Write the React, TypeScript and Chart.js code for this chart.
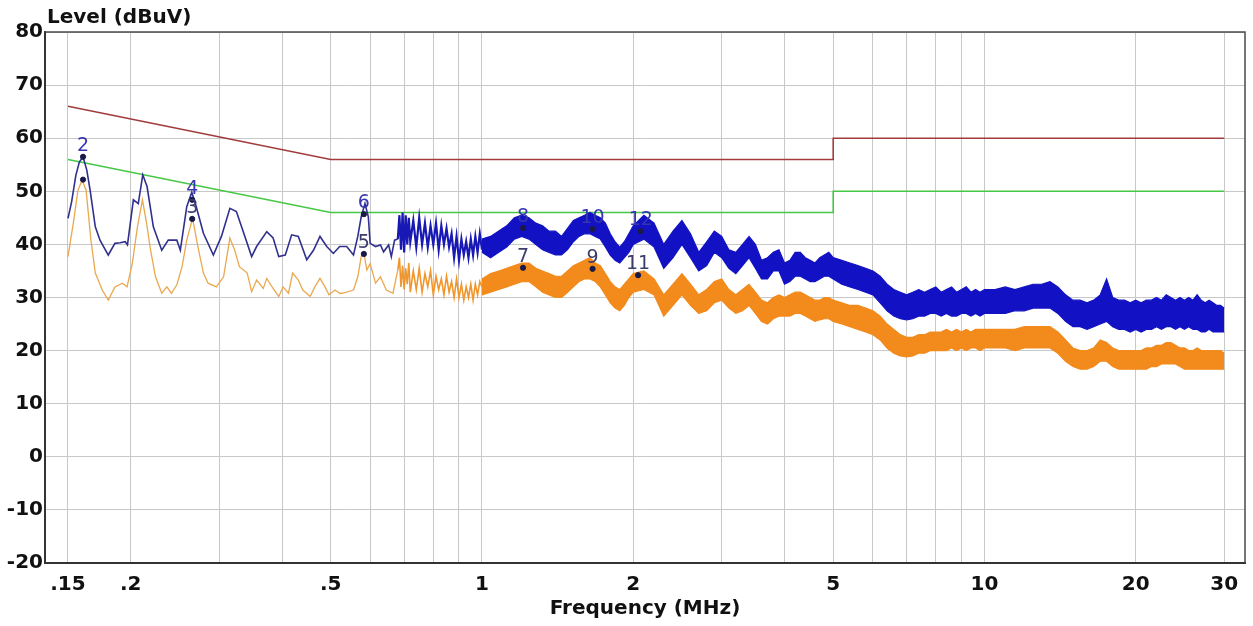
import React, { useEffect, useRef } from 'react';
import { Chart, registerables } from 'chart.js';

Chart.register(...registerables);

// ---------- axes ----------
const X_MIN = 0.135;
const X_MAX = 33;
const Y_MIN = -20;
const Y_MAX = 80;
const GRID_FREQS = [0.15, 0.2, 0.3, 0.4, 0.5, 0.6, 0.7, 0.8, 0.9, 1, 2, 3, 4, 5, 6, 7, 8, 9, 10, 20, 30];
const LABELED_FREQS = [0.15, 0.2, 0.5, 1, 2, 5, 10, 20, 30];
const LABEL_TEXT = ['.15', '.2', '.5', '1', '2', '5', '10', '20', '30'];
const Y_TITLE = 'Level (dBuV)';
const X_TITLE = 'Frequency (MHz)';

// ---------- limit lines ----------
const QP_FREQ = [0.15, 0.5, 5, 5, 30];
const QP_LEVEL = [66, 56, 56, 60, 60];
const AV_FREQ = [0.15, 0.5, 5, 5, 30];
const AV_LEVEL = [56, 46, 46, 50, 50];

// ---------- low-frequency traces (thin lines) ----------
const BLUE_LOW_FREQ = [0.150, 0.1525, 0.1555, 0.158, 0.1607, 0.1635, 0.166, 0.170, 0.1737, 0.1804, 0.186, 0.1905, 0.195, 0.197, 0.2024, 0.207, 0.2113, 0.2155, 0.2218, 0.2305, 0.2375, 0.247, 0.251, 0.2585, 0.2645, 0.270, 0.279, 0.292, 0.303, 0.315, 0.3245, 0.334, 0.348, 0.356, 0.373, 0.384, 0.394, 0.406, 0.418, 0.431, 0.448, 0.462, 0.476, 0.491, 0.506, 0.521, 0.538, 0.555, 0.566, 0.575, 0.585, 0.594, 0.599, 0.614, 0.628, 0.637, 0.652, 0.660, 0.670, 0.680];
const BLUE_LOW_LEVEL = [44.9, 48.0, 53.0, 55.5, 56.5, 54.0, 50.2, 43.3, 40.8, 38.0, 40.2, 40.3, 40.5, 39.9, 48.4, 47.7, 53.1, 50.9, 43.3, 38.9, 40.8, 40.8, 38.9, 47.1, 49.8, 47.1, 42.1, 38.0, 41.5, 46.8, 46.2, 42.7, 37.7, 39.6, 42.4, 41.2, 37.7, 38.0, 41.8, 41.5, 37.1, 38.9, 41.5, 39.6, 38.3, 39.6, 39.6, 38.0, 41.5, 45.2, 47.7, 45.2, 40.2, 39.6, 39.9, 38.6, 39.9, 37.7, 40.8, 41.0];

const ORANGE_LOW_FREQ = [0.150, 0.1537, 0.157, 0.160, 0.163, 0.1666, 0.170, 0.1755, 0.1804, 0.186, 0.1925, 0.1966, 0.2014, 0.2062, 0.211, 0.215, 0.219, 0.224, 0.2305, 0.236, 0.241, 0.247, 0.253, 0.2585, 0.2655, 0.272, 0.279, 0.285, 0.296, 0.306, 0.315, 0.322, 0.329, 0.341, 0.348, 0.356, 0.367, 0.373, 0.384, 0.394, 0.402, 0.412, 0.420, 0.431, 0.440, 0.455, 0.465, 0.476, 0.487, 0.496, 0.510, 0.521, 0.527, 0.555, 0.566, 0.575, 0.582, 0.590, 0.599, 0.614, 0.628, 0.645, 0.665, 0.680];
const ORANGE_LOW_LEVEL = [37.7, 44.0, 50.2, 52.1, 50.2, 40.8, 34.6, 31.4, 29.5, 32.0, 32.7, 32.0, 36.4, 43.3, 48.4, 44.0, 38.9, 33.9, 30.8, 32.0, 30.8, 32.4, 35.8, 40.8, 44.9, 39.6, 34.6, 32.7, 32.0, 33.9, 41.2, 38.9, 35.8, 34.6, 31.1, 33.3, 31.7, 33.6, 31.7, 30.2, 32.0, 30.8, 34.6, 33.3, 31.4, 30.2, 32.0, 33.6, 32.0, 30.5, 31.4, 30.8, 30.8, 31.4, 33.9, 37.7, 38.4, 35.2, 36.4, 32.7, 33.9, 31.4, 30.8, 35.2];

// ---------- spiky transition region 0.68 - 1.0 MHz ----------
const SPIKE_FREQ = [0.680, 0.685, 0.690, 0.695, 0.700, 0.705, 0.710, 0.715, 0.720, 0.730, 0.740, 0.750, 0.760, 0.770, 0.780, 0.790, 0.800, 0.810, 0.820, 0.830, 0.840, 0.850, 0.860, 0.870, 0.880, 0.890, 0.900, 0.910, 0.920, 0.930, 0.940, 0.950, 0.960, 0.970, 0.980, 0.990, 1.000];
const BLUE_SPIKE = [41.0, 45.5, 39.0, 46.0, 38.5, 45.5, 40.0, 45.0, 40.5, 44.5, 39.5, 45.0, 40.0, 44.0, 39.5, 43.5, 40.0, 44.0, 39.0, 43.5, 40.0, 43.0, 39.5, 42.0, 37.5, 41.5, 37.0, 41.0, 38.0, 40.5, 37.5, 41.0, 38.0, 41.5, 38.5, 42.0, 39.0];
const ORANGE_SPIKE = [35.2, 37.5, 32.0, 36.0, 31.5, 35.5, 32.5, 36.5, 31.0, 35.0, 31.5, 35.5, 31.0, 34.5, 32.0, 35.0, 30.5, 34.0, 31.5, 33.5, 30.5, 34.0, 31.0, 33.0, 30.0, 33.5, 30.0, 32.5, 29.5, 32.0, 30.0, 32.5, 29.5, 32.5, 30.5, 33.0, 32.0];

// ---------- noisy band region (upper / lower envelopes) ----------
const BAND_FREQ = [
  1.00, 1.04, 1.08, 1.12, 1.16, 1.20, 1.24, 1.28, 1.32, 1.36, 1.40, 1.44, 1.48, 1.52, 1.56, 1.60, 1.64, 1.68, 1.72, 1.76, 1.80, 1.84, 1.88, 1.92, 1.96, 2.00,
  2.1, 2.2, 2.3, 2.4, 2.5, 2.6, 2.7, 2.8, 2.9, 3.0, 3.1, 3.2, 3.3, 3.4, 3.5, 3.6, 3.7, 3.8, 3.9, 4.0, 4.1, 4.2, 4.3, 4.4, 4.5, 4.6, 4.7, 4.8, 4.9, 5.0,
  5.2, 5.4, 5.6, 5.8, 6.0, 6.2, 6.4, 6.6, 6.8, 7.0, 7.2, 7.4, 7.6, 7.8, 8.0, 8.2, 8.4, 8.6, 8.8, 9.0, 9.2, 9.4, 9.6, 9.8, 10.0,
  10.5, 11, 11.5, 12, 12.5, 13, 13.5, 14, 14.5, 15, 15.5, 16, 16.5, 17, 17.5, 18, 18.5, 19, 19.5, 20, 20.5, 21, 21.5, 22, 22.5, 23, 23.5, 24, 24.5, 25, 25.5, 26, 26.5, 27, 27.5, 28, 28.5, 29, 29.5, 30,
];
const BLUE_UPPER = [
  41.0, 41.5, 42.5, 43.5, 45.0, 45.5, 45.0, 44.0, 43.5, 42.5, 42.5, 41.5, 43.0, 44.5, 45.0, 45.5, 46.0, 45.5, 45.0, 44.0, 42.0, 40.5, 39.5, 40.5, 42.0, 43.5,
  45.5, 44.0, 40.0, 42.5, 44.5, 42.0, 38.5, 40.5, 42.5, 41.5, 39.0, 38.5, 40.0, 41.5, 40.0, 37.0, 37.5, 38.5, 39.0, 36.5, 37.0, 38.5, 38.5, 37.5, 37.0, 36.5, 37.5, 38.0, 38.5, 37.5,
  37.0, 36.5, 36.0, 35.5, 35.0, 34.0, 32.5, 31.5, 31.0, 30.5, 31.0, 31.5, 31.0, 31.5, 32.0, 31.0, 31.5, 32.0, 31.0, 31.5, 32.0, 31.0, 31.5, 31.0, 31.5,
  31.5, 32.0, 31.5, 32.0, 32.5, 32.5, 33.0, 32.0, 30.5, 29.5, 29.5, 29.0, 29.5, 30.5, 33.5, 30.0, 29.5, 29.5, 29.0, 29.5, 29.0, 29.5, 29.5, 30.0, 29.5, 30.5, 30.0, 29.5, 30.0, 29.5, 30.0, 29.5, 30.5, 29.5, 29.0, 29.5, 29.0, 28.5, 28.5, 28.0,
];
const BLUE_LOWER = [
  38.5, 37.5, 38.5, 39.5, 41.0, 41.5, 41.0, 40.0, 39.0, 38.5, 38.0, 38.0, 39.0, 40.5, 41.5, 42.0, 42.0, 41.5, 41.0, 39.5, 38.0, 37.0, 36.5, 37.5, 38.5, 40.0,
  41.0, 39.5, 35.5, 37.5, 40.0, 37.5, 35.0, 36.0, 38.5, 37.5, 35.5, 34.5, 36.0, 37.5, 35.5, 33.5, 33.5, 35.0, 35.0, 32.5, 33.0, 34.0, 34.0, 33.5, 33.0, 33.0, 33.5, 34.0, 34.0, 33.5,
  32.5, 32.0, 31.5, 31.0, 30.5, 29.0, 27.5, 26.5, 26.0, 25.8, 26.0, 26.5, 26.5, 27.0, 27.0, 26.5, 27.0, 26.5, 26.5, 27.0, 27.0, 26.5, 27.0, 26.5, 27.0,
  27.0, 27.0, 27.5, 27.5, 28.0, 28.0, 28.0, 27.0, 25.5, 24.5, 24.5, 24.0, 24.5, 25.0, 25.5, 24.5, 24.0, 24.0, 23.5, 24.0, 23.5, 24.0, 24.0, 24.5, 24.0, 24.5, 24.5, 24.0, 24.5, 24.0, 24.5, 24.0, 24.0, 23.5, 23.5, 24.0, 23.5, 23.5, 23.5, 23.5,
];
const ORANGE_UPPER = [
  33.5, 34.5, 35.0, 35.5, 36.0, 36.5, 36.5, 35.5, 35.0, 34.5, 34.0, 34.0, 35.0, 36.0, 36.5, 37.0, 37.5, 36.5, 36.0, 34.5, 33.0, 32.0, 31.5, 32.5, 33.5, 34.5,
  35.0, 33.5, 30.5, 32.5, 34.5, 32.5, 30.5, 31.5, 33.0, 33.5, 31.5, 30.5, 31.5, 32.5, 31.0, 29.5, 29.0, 30.0, 30.5, 30.0, 30.5, 31.0, 31.0, 30.5, 30.0, 29.5, 29.5, 30.0, 30.0, 29.5,
  29.0, 28.5, 28.5, 28.0, 27.5, 26.5, 25.0, 24.0, 23.0, 22.5, 22.5, 23.0, 23.0, 23.5, 23.5, 23.5, 24.0, 23.5, 24.0, 23.5, 24.0, 23.5, 24.0, 24.0, 24.0,
  24.0, 24.0, 24.0, 24.5, 24.5, 24.5, 24.5, 23.5, 22.0, 20.5, 20.0, 20.0, 20.5, 22.0, 21.5, 20.5, 20.0, 20.0, 20.0, 20.0, 20.0, 20.5, 20.5, 21.0, 21.0, 21.5, 21.5, 21.0, 20.5, 20.5, 20.0, 20.0, 20.5, 20.0, 20.0, 20.0, 20.0, 20.0, 20.0, 19.5,
];
const ORANGE_LOWER = [
  30.5, 31.0, 31.5, 32.0, 32.5, 33.0, 33.0, 32.0, 31.0, 30.5, 30.0, 30.0, 31.0, 32.0, 33.0, 33.5, 33.5, 33.0, 32.0, 30.5, 29.0, 28.0, 27.5, 28.5, 30.0, 31.0,
  31.5, 30.5, 26.5, 28.5, 30.5, 28.5, 27.0, 27.5, 29.0, 29.5, 28.0, 27.0, 27.5, 28.5, 27.0, 25.5, 25.0, 26.0, 26.5, 26.5, 26.5, 27.0, 27.0, 26.5, 26.0, 25.5, 25.8, 26.0, 26.0, 25.5,
  25.0, 24.5, 24.0, 23.5, 23.0, 22.0, 20.5, 19.5, 19.0, 18.8, 19.0, 19.5, 19.5, 20.0, 20.0, 20.0, 20.0, 20.5, 20.0, 20.5, 20.0, 20.5, 20.5, 20.0, 20.5,
  20.5, 20.5, 20.0, 20.5, 20.5, 20.5, 20.5, 19.5, 18.0, 17.0, 16.5, 16.5, 17.0, 18.0, 18.0, 17.0, 16.5, 16.5, 16.5, 16.5, 16.5, 16.5, 17.0, 17.0, 17.5, 17.5, 17.5, 17.5, 17.0, 16.5, 16.5, 16.5, 16.5, 16.5, 16.5, 16.5, 16.5, 16.5, 16.5, 16.5,
];

// ---------- markers ----------
const MARKER_IDS = ['1', '2', '3', '4', '5', '6', '7', '8', '9', '10', '11', '12'];
const MARKER_FREQ = [0.1607, 0.1607, 0.265, 0.265, 0.582, 0.582, 1.207, 1.207, 1.66, 1.66, 2.045, 2.07];
const MARKER_LEVEL = [52.2, 56.5, 44.8, 48.4, 38.2, 45.7, 35.6, 43.1, 35.4, 42.9, 34.2, 42.5];
const HIDDEN_LABELS = ['1'];

const pts = (xs: number[], ys: number[]) => xs.map((x, i) => ({ x, y: ys[i] }));

const BLUE = '#1212c4';
const ORANGE = '#f28a1c';
const FONT = '"DejaVu Sans", "Liberation Sans", Arial, sans-serif';

const overlayPlugin = {
  id: 'overlay',
  beforeDraw(chart: any) {
    const { ctx, width, height } = chart;
    ctx.save();
    ctx.fillStyle = '#ffffff';
    ctx.fillRect(0, 0, width, height);
    ctx.restore();
  },
  afterDatasetsDraw(chart: any) {
    const { ctx, scales } = chart;
    ctx.save();
    ctx.font = `19px ${FONT}`;
    ctx.textAlign = 'center';
    ctx.textBaseline = 'alphabetic';
    MARKER_IDS.forEach((id, i) => {
      if (HIDDEN_LABELS.includes(id)) return;
      const px = scales.x.getPixelForValue(MARKER_FREQ[i]);
      const py = scales.y.getPixelForValue(MARKER_LEVEL[i]);
      ctx.fillStyle = i % 2 === 1 ? '#3636b0' : '#3c3c6c';
      ctx.fillText(id, px, py - 6);
    });
    ctx.restore();
  },
  afterDraw(chart: any) {
    const { ctx, chartArea } = chart;
    ctx.save();
    ctx.strokeStyle = '#4a4a4a';
    ctx.lineWidth = 1.5;
    ctx.beginPath();
    ctx.moveTo(chartArea.left, chartArea.top);
    ctx.lineTo(chartArea.right, chartArea.top);
    ctx.lineTo(chartArea.right, chartArea.bottom);
    ctx.stroke();
    ctx.strokeStyle = '#333333';
    ctx.lineWidth = 2;
    ctx.beginPath();
    ctx.moveTo(chartArea.left, chartArea.top);
    ctx.lineTo(chartArea.left, chartArea.bottom);
    ctx.lineTo(chartArea.right, chartArea.bottom);
    ctx.stroke();

    ctx.fillStyle = '#111111';
    ctx.font = `bold 20px ${FONT}`;
    ctx.textBaseline = 'middle';
    ctx.textAlign = 'left';
    ctx.fillText(Y_TITLE, 47, 18);
    ctx.textAlign = 'center';
    ctx.fillText(X_TITLE, (chartArea.left + chartArea.right) / 2, 609);
    ctx.restore();
  },
};

export default function App() {
  const canvasRef = useRef<HTMLCanvasElement | null>(null);

  useEffect(() => {
    if (!canvasRef.current) return;
    const lineBase = { pointRadius: 0, tension: 0, fill: false } as any;
    const chart = new Chart(canvasRef.current, {
      type: 'line',
      data: {
        datasets: [
          {
            ...lineBase,
            label: 'markers',
            data: pts(MARKER_FREQ, MARKER_LEVEL),
            showLine: false,
            pointRadius: 2.6,
            pointBackgroundColor: '#1a1a48',
            pointBorderColor: '#1a1a48',
            order: 0,
          },
          {
            ...lineBase,
            label: 'blue upper',
            data: pts(BAND_FREQ, BLUE_UPPER),
            borderColor: BLUE,
            borderWidth: 1.2,
            order: 1,
          },
          {
            ...lineBase,
            label: 'blue lower',
            data: pts(BAND_FREQ, BLUE_LOWER),
            borderColor: BLUE,
            borderWidth: 1.2,
            backgroundColor: BLUE,
            fill: 1,
            order: 1,
          },
          {
            ...lineBase,
            label: 'blue low',
            data: pts(BLUE_LOW_FREQ, BLUE_LOW_LEVEL),
            borderColor: '#30308e',
            borderWidth: 1.6,
            order: 1,
          },
          {
            ...lineBase,
            label: 'orange upper',
            data: pts(BAND_FREQ, ORANGE_UPPER),
            borderColor: ORANGE,
            borderWidth: 1.2,
            order: 2,
          },
          {
            ...lineBase,
            label: 'orange lower',
            data: pts(BAND_FREQ, ORANGE_LOWER),
            borderColor: ORANGE,
            borderWidth: 1.2,
            backgroundColor: ORANGE,
            fill: 4,
            order: 2,
          },
          {
            ...lineBase,
            label: 'orange low',
            data: pts(ORANGE_LOW_FREQ, ORANGE_LOW_LEVEL),
            borderColor: '#eaa850',
            borderWidth: 1.3,
            order: 2,
          },
          {
            ...lineBase,
            label: 'QP limit',
            data: pts(QP_FREQ, QP_LEVEL),
            borderColor: '#a23c3c',
            borderWidth: 1.6,
            order: 3,
          },
          {
            ...lineBase,
            label: 'AV limit',
            data: pts(AV_FREQ, AV_LEVEL),
            borderColor: '#46c846',
            borderWidth: 1.6,
            order: 3,
          },
          {
            ...lineBase,
            label: 'blue spikes',
            data: pts(SPIKE_FREQ, BLUE_SPIKE),
            borderColor: '#1818b4',
            borderWidth: 2.2,
            order: 1,
          },
          {
            ...lineBase,
            label: 'orange spikes',
            data: pts(SPIKE_FREQ, ORANGE_SPIKE),
            borderColor: '#f0962c',
            borderWidth: 1.6,
            order: 2,
          },
        ],
      },
      options: {
        responsive: false,
        animation: false,
        events: [],
        layout: { padding: { top: 32, right: 8, left: 0, bottom: 0 } },
        plugins: {
          legend: { display: false },
          tooltip: { enabled: false },
          title: { display: false },
        },
        scales: {
          x: {
            type: 'logarithmic',
            min: X_MIN,
            max: X_MAX,
            afterBuildTicks: (scale: any) => {
              scale.ticks = GRID_FREQS.map((v) => ({ value: v }));
            },
            afterFit: (scale: any) => {
              scale.height = 63;
            },
            ticks: {
              autoSkip: false,
              maxRotation: 0,
              minRotation: 0,
              padding: 10,
              color: '#111111',
              font: { family: FONT, size: 20, weight: 'bold' },
              callback: (v: any) => {
                const i = LABELED_FREQS.findIndex((f) => Math.abs(f - Number(v)) < 1e-9);
                return i >= 0 ? LABEL_TEXT[i] : '';
              },
            },
            grid: { color: '#c8c8c8', lineWidth: 1, drawTicks: false },
            border: { display: true, color: '#333333', width: 2 },
          },
          y: {
            type: 'linear',
            min: Y_MIN,
            max: Y_MAX,
            afterFit: (scale: any) => {
              scale.width = 45;
            },
            ticks: {
              stepSize: 10,
              padding: 2,
              color: '#111111',
              font: { family: FONT, size: 20, weight: 'bold' },
            },
            grid: { color: '#c8c8c8', lineWidth: 1, drawTicks: false },
            border: { display: true, color: '#333333', width: 2 },
          },
        },
      } as any,
      plugins: [overlayPlugin],
    });
    return () => chart.destroy();
  }, []);

  return (
    <div style={{ position: 'fixed', left: 0, top: 0, width: 1253, height: 626, background: '#ffffff' }}>
      <canvas ref={canvasRef} width={1253} height={626} style={{ display: 'block' }} />
    </div>
  );
}
